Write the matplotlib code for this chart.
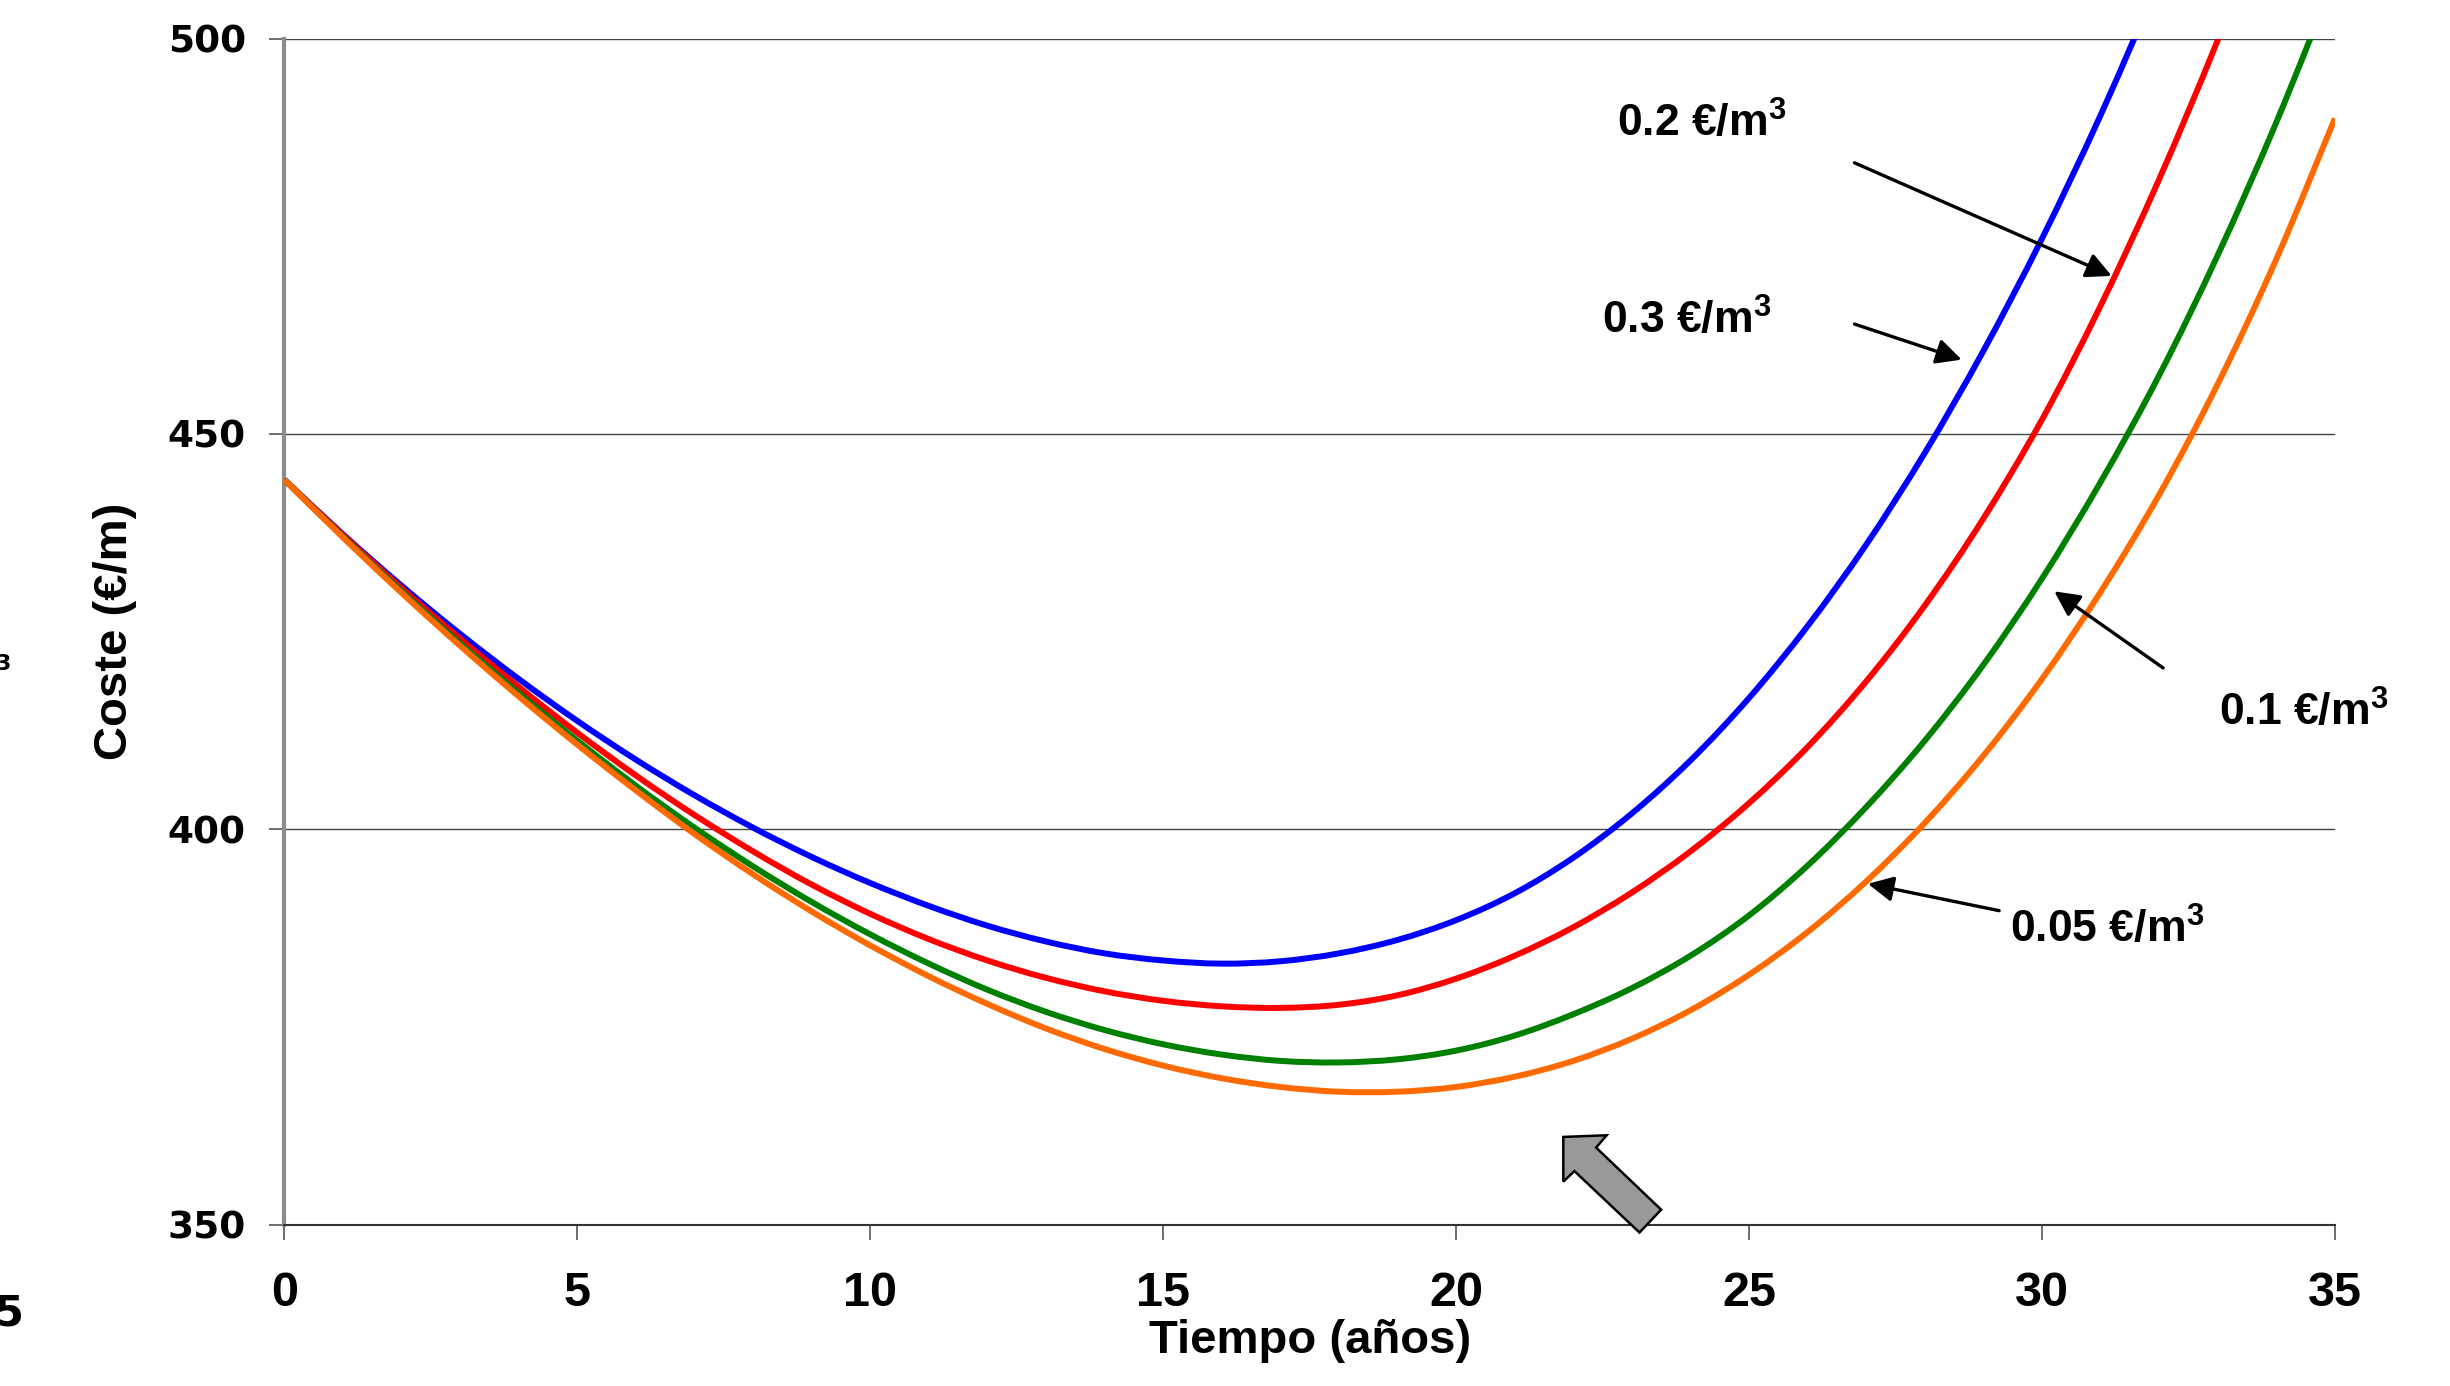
import matplotlib

matplotlib.use("Agg")
import matplotlib.pyplot as plt
import numpy as np
from matplotlib.patches import PathPatch, Polygon
from matplotlib.path import Path

plt.rcParams["mathtext.fontset"] = "custom"
plt.rcParams["mathtext.bf"] = "Liberation Sans:bold"
plt.rcParams["mathtext.rm"] = "Liberation Sans"

# values (coste in €/m vs años)
years = list(range(36))
coste_03 = [444.2, 437.3, 430.8, 424.7, 419.0, 413.7, 408.8, 404.3, 400.2, 396.5,
            393.2, 390.3, 387.8, 385.8, 384.3, 383.4, 383.0, 383.3, 384.3, 386.0,
            388.5, 391.9, 396.4, 402.0, 408.7, 416.6, 425.7, 436.0, 447.6, 460.5,
            474.7, 490.3, 507.3]
coste_02 = [444.2, 437.2, 430.5, 424.1, 418.0, 412.2, 406.8, 401.8, 397.2, 393.0,
            389.3, 386.1, 383.4, 381.2, 379.5, 378.3, 377.6, 377.4, 377.8, 379.0,
            381.1, 384.0, 387.6, 392.0, 397.2, 403.3, 410.4, 418.7, 428.3, 439.3,
            451.8, 466.2, 482.2, 499.8, 519.0]
coste_01 = [444.2, 437.0, 430.1, 423.5, 417.2, 411.2, 405.5, 400.2, 395.3, 390.8,
            386.7, 383.0, 379.7, 376.9, 374.6, 372.8, 371.5, 370.7, 370.5, 370.9,
            372.0, 373.9, 376.6, 379.9, 384.0, 389.1, 395.4, 402.8, 411.2, 420.8,
            431.7, 443.9, 457.4, 472.6, 489.4, 507.8]
coste_005 = [444.2, 436.9, 429.9, 423.2, 416.8, 410.7, 404.9, 399.4, 394.3, 389.6,
             385.3, 381.4, 377.9, 374.8, 372.2, 370.1, 368.5, 367.4, 366.8, 366.8,
             367.4, 368.7, 370.7, 373.5, 377.1, 381.6, 387.0, 393.4, 400.8, 409.3,
             419.0, 430.0, 442.3, 456.3, 472.1, 489.9]

series = [
    (coste_03, "#0000FF"),
    (coste_02, "#FF0000"),
    (coste_01, "#008000"),
    (coste_005, "#FF6A00"),
]

x_ticks = [0, 5, 10, 15, 20, 25, 30, 35]
y_ticks = [350, 400, 450, 500]

# label text, text position, arrow tail, arrow tip (data coords)
labels = [
    ("0.2 €/m", (22.75, 487.6), (26.80, 484.3), (31.19, 470.0)),
    ("0.3 €/m", (22.49, 462.7), (26.80, 463.9), (28.63, 459.4)),
    ("0.1 €/m", (33.03, 413.1), (32.07, 420.4), (30.21, 430.1)),
    ("0.05 €/m", (29.46, 385.7), (29.27, 389.7), (27.03, 393.1)),
]

# big grey block arrow near the x axis
gray_arrow = [(21.83, 361.08), (22.57, 361.29), (22.39, 359.73), (23.50, 351.88),
              (23.13, 348.99), (22.02, 356.76), (21.83, 355.43)]


def smooth_path(xs, ys):
    """Smoothed line through the points (like a spreadsheet 'smoothed line')."""
    pts = np.column_stack([xs, ys]).astype(float)
    n = len(pts)
    verts = [pts[0]]
    codes = [Path.MOVETO]
    for i in range(n - 1):
        p0 = pts[max(i - 1, 0)]
        p1 = pts[i]
        p2 = pts[i + 1]
        p3 = pts[min(i + 2, n - 1)]
        c1 = p1 + (p2 - p0) / 6.0
        c2 = p2 - (p3 - p1) / 6.0
        verts += [c1, c2, p2]
        codes += [Path.CURVE4] * 3
    return Path(verts, codes)


fig = plt.figure(figsize=(24.5, 13.86), dpi=100)
ax = fig.add_axes([0.1161, 0.1165, 0.8369, 0.8556])

for vals, color in series:
    ax.add_patch(PathPatch(smooth_path(years[:len(vals)], vals), facecolor="none",
                           edgecolor=color, lw=4.3, zorder=3))

ax.set_xlim(0, 35)
ax.set_ylim(350, 500)
ax.set_xticks(x_ticks)
ax.set_yticks(y_ticks)
ax.grid(axis="y", color="#444444", lw=1.0, zorder=1)
ax.grid(axis="x", visible=False)

for side in ("top", "right"):
    ax.spines[side].set_visible(False)
ax.spines["left"].set_color("#8c8c8c")
ax.spines["left"].set_linewidth(3)
ax.spines["bottom"].set_color("#333333")
ax.spines["bottom"].set_linewidth(1.5)

ax.tick_params(axis="both", direction="out", length=10.8, width=1.2, color="#555555")
ax.tick_params(axis="y", pad=17)
ax.tick_params(axis="x", pad=23)
for lab in ax.get_yticklabels():
    lab.set_fontfamily("DejaVu Sans")
    lab.set_fontweight("bold")
    lab.set_fontsize(27)
for lab in ax.get_xticklabels():
    lab.set_fontfamily("Liberation Sans")
    lab.set_fontweight("bold")
    lab.set_fontsize(35)

ax.set_xlabel("Tiempo (años)", fontfamily="Liberation Sans", fontweight="bold", fontsize=34)
ax.set_ylabel("Coste (€/m)", fontfamily="Liberation Sans", fontweight="bold", fontsize=34)
ax.xaxis.set_label_coords(0.5, -0.08)
ax.yaxis.set_label_coords(-0.072, 0.5)

for text, pos, tail, tip in labels:
    ax.text(pos[0], pos[1], text + r"$^{\mathbf{3}}$", fontfamily="Liberation Sans",
            fontweight="bold", fontsize=32, va="baseline", ha="left", zorder=5)
    ax.annotate("", xy=tip, xytext=tail,
                arrowprops=dict(arrowstyle="-|>", color="black", lw=2.4,
                                mutation_scale=38, shrinkA=0, shrinkB=0),
                zorder=5)

ax.add_patch(Polygon(gray_arrow, closed=True, facecolor="#999999", edgecolor="black",
                     lw=1.8, clip_on=False, zorder=6))

# stray bits of a neighbouring chart cut at the left edge
fig.text(0.0044, 0.521, "3", fontfamily="DejaVu Sans", fontweight="bold",
         fontsize=16, ha="right", va="center")
fig.text(0.0095, 0.044, "5", fontfamily="DejaVu Sans", fontweight="bold",
         fontsize=30, ha="right", va="baseline")

fig.savefig("out.png", dpi=100)
plt.close(fig)
